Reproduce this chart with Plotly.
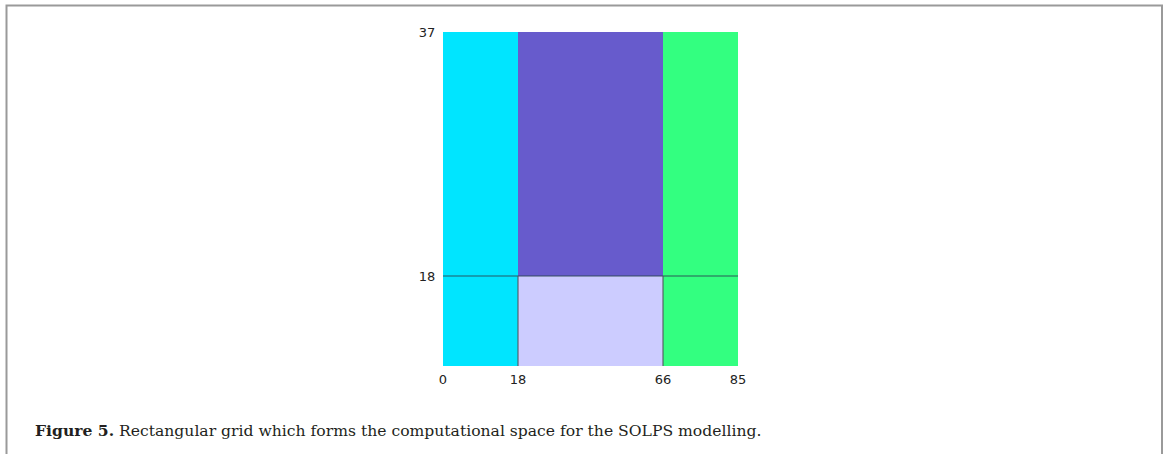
import plotly.graph_objects as go

# Grid boundary labels (poloidal / radial cell indices)
x_labels = ["0", "18", "66", "85"]
y_labels = ["0", "18", "37"]
# Regions: (x-start index, x-end index, y-start index, y-end index)
region_names = ["core-left", "main", "private", "core-right"]
region_x0 = [0, 1, 1, 2]
region_x1 = [1, 2, 2, 3]
region_y0 = [0, 1, 0, 0]
region_y1 = [2, 2, 1, 2]
region_colors = ["#00E5FF", "#675BCC", "#CCCCFF", "#33FF80"]

# display scale of the schematic grid (non-uniform, as in the figure)
x_disp = [0, 75, 220, 295]
y_disp = [0, 90, 334]

W, H = 1168, 454
L, R, T, B = 443, W - 738, 32, H - 366

fig = go.Figure()
for name, a, b, c, d, col in zip(region_names, region_x0, region_x1, region_y0, region_y1, region_colors):
    xs = [x_disp[a], x_disp[b], x_disp[b], x_disp[a], x_disp[a]]
    ys = [y_disp[c], y_disp[c], y_disp[d], y_disp[d], y_disp[c]]
    fig.add_trace(go.Scatter(x=xs, y=ys, fill="toself", fillcolor=col,
                             mode="lines", line=dict(width=0), name=name,
                             hoverinfo="name", showlegend=False))

# separatrix line at y=18 and cut lines at x=18, 66
fig.add_trace(go.Scatter(x=[x_disp[0], x_disp[-1]], y=[y_disp[1], y_disp[1]],
                         mode="lines", line=dict(color="rgba(40,70,80,0.6)", width=1.5),
                         showlegend=False, hoverinfo="skip"))
for i in (1, 2):
    fig.add_trace(go.Scatter(x=[x_disp[i], x_disp[i]], y=[y_disp[0], y_disp[1]],
                             mode="lines", line=dict(color="rgba(80,80,90,0.7)", width=1.5),
                             showlegend=False, hoverinfo="skip"))

pw, ph = W - L - R, H - T - B

def px_x(p):
    return (p - L) / pw

def px_y(p):
    return (H - B - p) / ph

fig.add_shape(type="rect", xref="paper", yref="paper",
              x0=px_x(6.5), x1=px_x(1162), y0=px_y(470), y1=px_y(5.5),
              line=dict(color="#9a9a9a", width=2), fillcolor="rgba(0,0,0,0)")

fig.add_annotation(xref="paper", yref="paper", x=px_x(33), y=px_y(430),
                   xanchor="left", yanchor="middle", showarrow=False,
                   text="<b>Figure 5.</b> Rectangular grid which forms the computational space for the SOLPS modelling.",
                   font=dict(family="DejaVu Serif", size=15.6, color="#231f20"))

tickfont = dict(family="DejaVu Sans", size=13, color="#222")
fig.update_layout(
    width=W, height=H, autosize=False,
    margin=dict(l=L, r=R, t=T, b=B, pad=0),
    paper_bgcolor="white", plot_bgcolor="white",
    xaxis=dict(range=[x_disp[0], x_disp[-1]], tickvals=x_disp, ticktext=x_labels,
               showgrid=False, zeroline=False, showline=False,
               ticks="outside", ticklen=1, tickcolor="rgba(0,0,0,0)",
               tickfont=tickfont, fixedrange=True),
    yaxis=dict(range=[y_disp[0], y_disp[-1]], tickvals=y_disp[1:], ticktext=y_labels[1:],
               showgrid=False, zeroline=False, showline=False,
               ticks="outside", ticklen=4, tickcolor="rgba(0,0,0,0)",
               tickfont=tickfont, fixedrange=True),
)

fig.write_html("out.html", config={"displayModeBar": False},
               post_script="document.body.style.margin='0';")
